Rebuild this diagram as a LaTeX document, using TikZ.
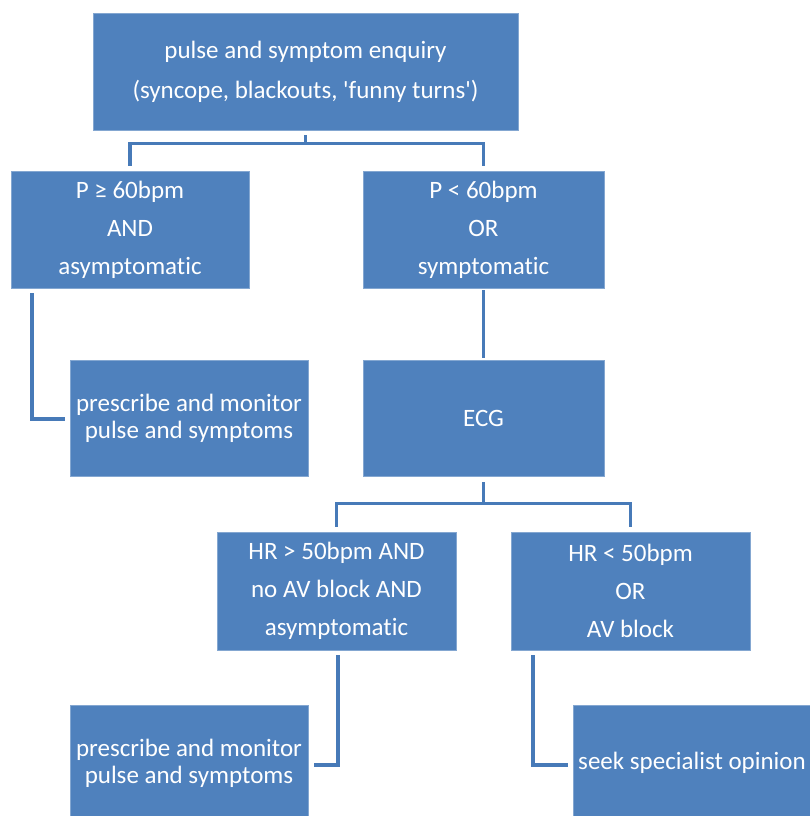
\documentclass[tikz,border=0pt]{standalone}
\usepackage{fontspec}
\setmainfont{Carlito}[Ligatures={TeX,NoCommon}]
\usetikzlibrary{positioning}
\definecolor{BoxBlue}{RGB}{79,129,189}
\definecolor{LineBlue}{RGB}{71,122,184}

\begin{document}
\begin{tikzpicture}[
    x=1pt,y=-1pt,
    box/.style={fill=BoxBlue,draw=BoxBlue!70!white,line width=0.6pt,text=white,align=center,
                minimum width=238pt,minimum height=117pt,inner sep=2pt,
                font=\fontsize{25}{38}\selectfont},
    tight/.style={font=\fontsize{25}{27}\selectfont},
    conn/.style={LineBlue,line width=3.6pt}
  ]
  \useasboundingbox (0,0) rectangle (809,816);

  % top level
  \node (enq)[box,minimum width=425pt,font=\fontsize{25}{40}\selectfont] at (305.5,71.5)
      {pulse and symptom enquiry\\(syncope, blackouts, \textquotesingle funny turns\textquotesingle)};
  \node (pge)[box] at (130,229.5) {P ≥ 60bpm\\AND\\asymptomatic};
  \node (plt)[box,minimum width=241pt] at (483.5,229.5) {P < 60bpm\\OR\\symptomatic};

  % second level
  \node (mon1)[box,tight,minimum height=116pt] at (189,418) {prescribe and monitor\\pulse and symptoms};
  \node (ecg)[box,minimum width=241pt,minimum height=116pt] at (483.5,418) {ECG};

  % third level
  \node (hrgt)[box,minimum width=239pt,minimum height=118pt] at (336.5,591) {HR > 50bpm AND\\no AV block AND\\asymptomatic};
  \node (hrlt)[box,minimum width=239pt,minimum height=118pt] at (630.5,591) {HR < 50bpm\\OR\\AV block};

  % bottom level
  \node (mon2)[box,tight,minimum height=116pt] at (189,763) {prescribe and monitor\\pulse and symptoms};
  \node (spec)[box,minimum height=116pt] at (692,763) {seek specialist opinion};

  % connectors
  \draw[conn] ([yshift=-5pt]enq.south) -- ++(0,8) -| ([yshift=5pt]pge.north);
  \draw[conn] ([yshift=-5pt]enq.south) -- ++(0,8) -| ([yshift=5pt]plt.north);
  \draw[conn] ([xshift=21pt,yshift=-5pt]pge.south west) |- ([xshift=-5pt,yshift=-1pt]mon1.west);
  \draw[conn] ([yshift=-2pt]plt.south) -- ([yshift=2pt]ecg.north);
  \draw[conn] ([yshift=-6pt]ecg.south) -- ++(0,21) -| ([yshift=5pt]hrgt.north);
  \draw[conn] ([yshift=-6pt]ecg.south) -- ++(0,21) -| ([yshift=5pt]hrlt.north);
  \draw[conn] ([xshift=1.5pt,yshift=-5pt]hrgt.south) |- ([xshift=6pt,yshift=-2pt]mon2.east);
  \draw[conn] ([xshift=22pt,yshift=-5pt]hrlt.south west) |- ([xshift=-5pt,yshift=-2pt]spec.west);
\end{tikzpicture}
\end{document}
